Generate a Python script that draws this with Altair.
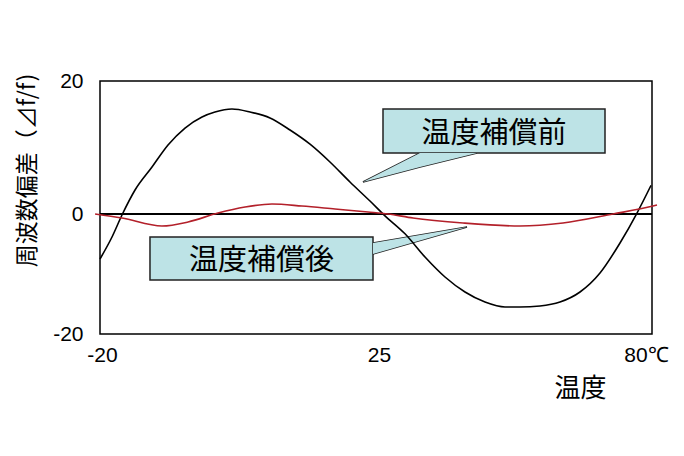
import altair as alt
import pandas as pd

# --- data ---
temp_before = [-20.0, -18.05, -16.43, -14.31, -11.55, -8.95, -6.19, -3.43, -1.32, 1.44, 4.37, 7.62,
               10.87, 14.12, 17.36, 20.61, 23.86, 26.6, 30.6, 34.6, 38.6, 42.6, 46.6, 50.6, 53.6,
               57.6, 61.6, 65.6, 69.6, 73.6, 77.0, 79.8]
dev_before = [-7.5, -3.83, -0.17, 3.61, 7.07, 10.38, 12.93, 14.59, 15.34, 15.79, 15.34, 14.44,
              12.63, 10.5, 7.82, 4.81, 1.95, -0.3, -3.3, -7.17, -10.5, -13.0, -14.67, -15.5, -15.5,
              -15.33, -14.67, -13.0, -9.83, -4.83, 0.15, 4.3]

temp_after = [-20.8, -16.43, -9.93, -5.7, -0.83, 3.56, 7.94, 12.81, 18.18, 23.54, 27.2, 32.2,
              42.2, 53.6, 62.2, 72.2, 80.2, 81.0]
dev_after = [0.0, -0.67, -2.0, -1.33, 0.15, 1.05, 1.5, 1.2, 0.75, 0.3, 0.0, -0.67,
             -1.5, -2.0, -1.5, 0.0, 1.2, 1.35]

x_ticks = [-20, 25, 80]
y_ticks = [-20, 0, 20]

label_before = "温度補償前"
label_after = "温度補償後"

# callout geometry (data units)
box_before = dict(x=26.2, x2=70.6, y=15.79, y2=9.17, label=label_before)
box_after = dict(x=-11.88, x2=24.35, y=-3.83, y2=-11.0, label=label_after)
ptr_before = pd.DataFrame({"t": [22.72, 33.6, 45.0], "a": [4.81, 9.17, 9.17], "b": [4.81, 7.07, 9.17]})
ptr_after = pd.DataFrame({"t": [24.35, 43.0], "a": [-4.83, -2.17], "b": [-6.67, -2.17]})

W, H = 552, 253
xscale = alt.Scale(domain=[-20, 25, 80], range=[0, 277, W], nice=False, zero=False)
yscale = alt.Scale(domain=[-20, 0, 20], range=[H, 133, 0], nice=False, zero=False)

LATIN = "Liberation Sans"
CJK = "Noto Sans CJK JP"
FILL = "#bde3e6"
EDGE = "#222222"

xaxis = alt.Axis(values=x_ticks, ticks=False, domain=False, grid=False, labelFlush=False,
                 labelFont=LATIN, labelFontSize=21, labelColor="black", labelPadding=10,
                 labelExpr="datum.value == 80 ? '80℃' : replace(datum.label, '−', '-')",
                 labelOffset={"condition": {"test": "datum.value == 80", "value": -6}, "value": 2},
                 title="温度", titleFont=CJK, titleFontSize=26, titleFontWeight="normal",
                 titleColor="black", titleX=480, titleY=54, titleBaseline="middle", titleAlign="center")
yaxis = alt.Axis(values=y_ticks, ticks=False, domain=False, grid=False,
                 labelFont=LATIN, labelFontSize=21, labelColor="black", labelPadding=17,
                 labelExpr="replace(datum.label, '−', '-')",
                 title="周波数偏差（⊿f/f)", titleFont=CJK, titleFontSize=23, titleFontWeight="normal",
                 titleColor="black", titleAngle=-90, titleX=-73, titleY=89,
                 titleBaseline="middle", titleAlign="center")

before_df = pd.DataFrame({"t": temp_before, "v": dev_before})
after_df = pd.DataFrame({"t": temp_after, "v": dev_after})

base_axes = alt.Chart(pd.DataFrame({"t": [-20, 80], "v": [-20, 20]})).mark_point(opacity=0).encode(
    x=alt.X("t:Q", scale=xscale, axis=xaxis),
    y=alt.Y("v:Q", scale=yscale, axis=yaxis),
)

zero = alt.Chart(pd.DataFrame({"v": [0]})).mark_rule(color="black", strokeWidth=1.8).encode(
    y=alt.Y("v:Q", scale=yscale)
)

boxes = pd.DataFrame([box_before, box_after])
box_rect = alt.Chart(boxes).mark_rect(fill=FILL, stroke=EDGE, strokeWidth=1.5).encode(
    x=alt.X("x:Q", scale=xscale), x2="x2:Q",
    y=alt.Y("y:Q", scale=yscale), y2="y2:Q",
)
boxes["cx"] = (boxes["x"] + boxes["x2"]) / 2
boxes["cy"] = (boxes["y"] + boxes["y2"]) / 2
box_text = alt.Chart(boxes).mark_text(font=CJK, fontSize=29, color="black", baseline="middle",
                                       align="center", dy=3).encode(
    x=alt.X("cx:Q", scale=xscale), y=alt.Y("cy:Q", scale=yscale), text="label:N"
)


def pointer(df, stroked):
    kw = dict(fill=FILL, interpolate="linear", orient="vertical")
    if stroked:
        kw.update(stroke=EDGE, strokeWidth=1.5)
    else:
        kw.update(strokeWidth=0)
    return alt.Chart(df).mark_area(**kw).encode(
        x=alt.X("t:Q", scale=xscale), y=alt.Y("a:Q", scale=yscale), y2="b:Q"
    )


black = alt.Chart(before_df).mark_line(color="black", strokeWidth=1.6, interpolate="monotone").encode(
    x=alt.X("t:Q", scale=xscale), y=alt.Y("v:Q", scale=yscale)
)
red = alt.Chart(after_df).mark_line(color="#b3202a", strokeWidth=1.6, interpolate="monotone").encode(
    x=alt.X("t:Q", scale=xscale), y=alt.Y("v:Q", scale=yscale)
)

chart = alt.layer(
    base_axes, zero,
    pointer(ptr_before, True), pointer(ptr_after, True),
    box_rect,
    pointer(ptr_before, False), pointer(ptr_after, False),
    box_text, black, red,
).properties(
    width=W, height=H,
    background="white",
    autosize=alt.AutoSizeParams(type="none"),
    padding={"left": 92, "top": 73, "right": 22, "bottom": 108},
).configure_view(stroke="black", strokeWidth=1.5)

chart.save("out.html", embed_options={"renderer": "svg", "actions": False})
